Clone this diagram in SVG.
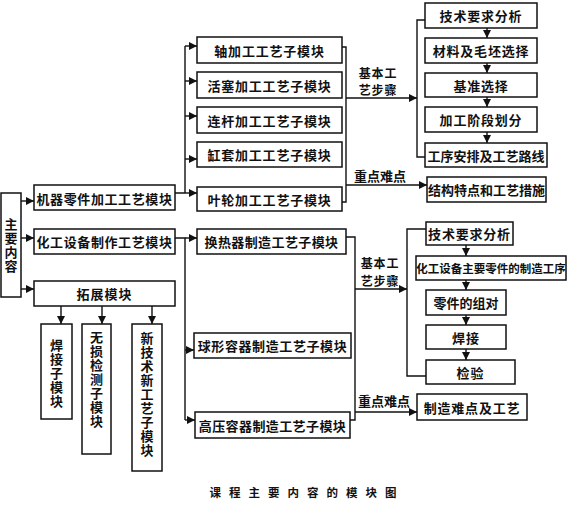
<svg xmlns="http://www.w3.org/2000/svg" width="570" height="505" viewBox="0 0 570 505">
<style>
.b{fill:#fff;stroke:#111;stroke-width:1.5}
.t{font-family:"Noto Sans CJK SC","Noto Sans CJK JP",sans-serif;font-size:13px;font-weight:bold;fill:#111;text-anchor:middle;dominant-baseline:central}
.v{writing-mode:vertical-rl;text-orientation:upright;letter-spacing:1px}
.s{font-size:11.5px}
.l{font-size:12px;letter-spacing:0.8px}
.c{fill:none;stroke:#111;stroke-width:1.4}
.a{marker-end:url(#ah)}
.cap{font-family:"Noto Sans CJK SC",sans-serif;font-size:11.5px;font-weight:bold;fill:#111;text-anchor:middle;letter-spacing:8px}
</style>
<defs>
<marker id="ah" viewBox="0 0 10 10" refX="10" refY="5" markerWidth="9" markerHeight="8" markerUnits="userSpaceOnUse" orient="auto">
<path d="M0,0 L10,5 L0,10 z" fill="#111"/>
</marker>
</defs>
<rect width="570" height="505" fill="#fff"/>

<g id="connectors">
<path class="c a" d="M21,201 H34"/>
<path class="c a" d="M21,238 H34"/>
<path class="c a" d="M21,289 H34"/>
<path class="c" d="M175,193 H185 M185,46 V193"/>
<path class="c a" d="M185,46 H197"/>
<path class="c a" d="M185,81 H197"/>
<path class="c a" d="M185,116 H197"/>
<path class="c a" d="M185,159 H197"/>
<path class="c a" d="M185,193 H197"/>
<path class="c" d="M342,47 H346 V202 H342"/>
<path class="c a" d="M346,98 H417"/>
<path class="c a" d="M346,185 H427"/>
<path class="c" d="M425,20 H417 V157 H425"/>
<path class="c a" d="M487,28 V38"/>
<path class="c a" d="M487,63 V73"/>
<path class="c a" d="M487,97 V107"/>
<path class="c a" d="M487,132 V143"/>
<path class="c" d="M175,238 H185 V420"/>
<path class="c a" d="M185,238 H197"/>
<path class="c a" d="M185,350 H194"/>
<path class="c a" d="M185,420 H195"/>
<path class="c" d="M346,237 H355 V420 H350"/>
<path class="c a" d="M355,289 H407"/>
<path class="c a" d="M355,412 H417"/>
<path class="c" d="M426,229 H407 V376 H426"/>
<path class="c a" d="M466,245 V256"/>
<path class="c a" d="M466,280 V290"/>
<path class="c a" d="M466,315 V325"/>
<path class="c a" d="M466,349 V360"/>
<path class="c a" d="M61,306 V324"/>
<path class="c a" d="M102,306 V324"/>
<path class="c a" d="M152,306 V324"/>
</g>

<g id="main"><rect class="b" x="1" y="193" width="20" height="104"/>
<text class="t v" x="11" y="246">主要内容</text></g>

<g id="m1"><rect class="b" x="34" y="185" width="141" height="25"/><text class="t" x="104.5" y="198" letter-spacing="0.6">机器零件加工工艺模块</text></g>
<g id="m2"><rect class="b" x="34" y="229" width="141" height="25"/><text class="t" x="104.5" y="241.5" letter-spacing="0.6">化工设备制作工艺模块</text></g>
<g id="m3"><rect class="b" x="34" y="281" width="141" height="25"/><text class="t" x="104.5" y="293.5" letter-spacing="1">拓展模块</text></g>

<g id="e1"><rect class="b" x="41" y="324" width="31" height="95"/>
<text class="t v" x="56.5" y="373.5">焊接子模块</text></g>
<g id="e2"><rect class="b" x="82" y="324" width="29" height="130"/>
<text class="t v" x="96.5" y="380">无损检测子模块</text></g>
<g id="e3"><rect class="b" x="132" y="324" width="30" height="147"/>
<text class="t v" x="147" y="394.5">新技术新工艺子模块</text></g>

<g id="s1"><rect class="b" x="197" y="37" width="145" height="26"/><text class="t" x="269.5" y="50" letter-spacing="0.8">轴加工工艺子模块</text></g>
<g id="s2"><rect class="b" x="197" y="72" width="145" height="26"/><text class="t" x="269.5" y="85" letter-spacing="0.8">活塞加工工艺子模块</text></g>
<g id="s3"><rect class="b" x="197" y="107" width="145" height="26"/><text class="t" x="269.5" y="120" letter-spacing="0.8">连杆加工工艺子模块</text></g>
<g id="s4"><rect class="b" x="197" y="142" width="145" height="25"/><text class="t" x="269.5" y="154.5" letter-spacing="0.8">缸套加工工艺子模块</text></g>
<g id="s5"><rect class="b" x="197" y="187" width="145" height="24"/><text class="t" x="269.5" y="199" letter-spacing="0.8">叶轮加工工艺子模块</text></g>

<g id="lab1"><text class="t l" x="378" y="72">基本工</text><text class="t l" x="378" y="89.5">艺步骤</text></g>
<g id="lab2"><text class="t" x="380" y="175">重点难点</text></g>

<g id="r1"><rect class="b" x="425" y="3" width="112" height="25"/><text class="t" x="481" y="15.5" letter-spacing="0.8">技术要求分析</text></g>
<g id="r2"><rect class="b" x="425" y="38" width="112" height="25"/><text class="t" x="481" y="50.5" letter-spacing="0.8">材料及毛坯选择</text></g>
<g id="r3"><rect class="b" x="425" y="73" width="112" height="24"/><text class="t" x="481" y="85" letter-spacing="0.8">基准选择</text></g>
<g id="r4"><rect class="b" x="425" y="107" width="112" height="25"/><text class="t" x="481" y="119.5" letter-spacing="0.8">加工阶段划分</text></g>
<g id="r5"><rect class="b" x="425" y="143" width="122" height="24"/><text class="t" x="486" y="155">工序安排及工艺路线</text></g>
<g id="r6"><rect class="b" x="427" y="177" width="119" height="25"/><text class="t" x="486.5" y="189.5">结构特点和工艺措施</text></g>

<g id="c1"><rect class="b" x="197" y="229" width="149" height="25"/><text class="t" x="271.5" y="241.5" letter-spacing="0.4">换热器制造工艺子模块</text></g>
<g id="c2"><rect class="b" x="194" y="333" width="157" height="25"/><text class="t" x="272.5" y="345.5" letter-spacing="0.6">球形容器制造工艺子模块</text></g>
<g id="c3"><rect class="b" x="195" y="412" width="155" height="26"/><text class="t" x="272.5" y="425" letter-spacing="0.4">高压容器制造工艺子模块</text></g>

<g id="lab3"><text class="t l" x="380" y="262.5">基本工</text><text class="t l" x="380" y="280">艺步骤</text></g>
<g id="lab4"><text class="t" x="384" y="400">重点难点</text></g>

<g id="q1"><rect class="b" x="426" y="222" width="87" height="23"/><text class="t" x="469.5" y="233.5" letter-spacing="0.8">技术要求分析</text></g>
<g id="q2"><rect class="b" x="416" y="256" width="150" height="24"/><text class="t s" x="491" y="268">化工设备主要零件的制造工序</text></g>
<g id="q3"><rect class="b" x="426" y="290" width="80" height="25"/><text class="t" x="466" y="302.5">零件的组对</text></g>
<g id="q4"><rect class="b" x="426" y="325" width="80" height="24"/><text class="t" x="466" y="337" letter-spacing="1">焊接</text></g>
<g id="q5"><rect class="b" x="426" y="360" width="89" height="24"/><text class="t" x="470.5" y="372" letter-spacing="1">检验</text></g>
<g id="q6"><rect class="b" x="417" y="394" width="110" height="26"/><text class="t" x="472" y="407" letter-spacing="0.8">制造难点及工艺</text></g>

<text class="cap" x="307" y="497">课程主要内容的模块图</text>
</svg>
